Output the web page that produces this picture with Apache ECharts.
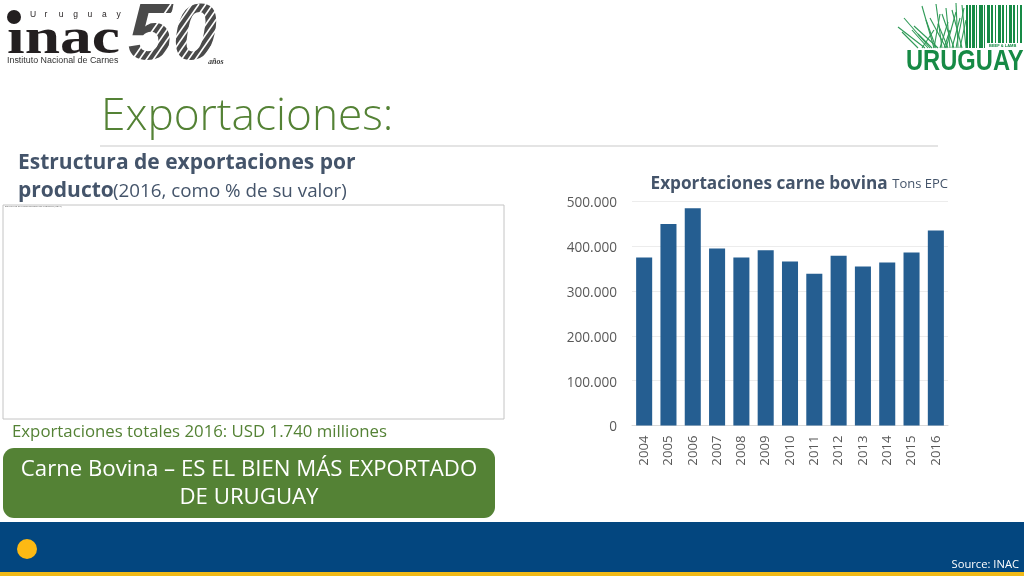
<!DOCTYPE html>
<html>
<head>
<meta charset="utf-8">
<title>Exportaciones</title>
<script src="https://cdn.jsdelivr.net/npm/echarts@6/dist/echarts.min.js"></script>
<style>
  html, body { margin: 0; padding: 0; background: #fff; }
  #main { width: 1024px; height: 576px; }
</style>
</head>
<body>
<div id="main"></div>
<script>
var years = ['2004', '2005', '2006', '2007', '2008', '2009', '2010', '2011', '2012', '2013', '2014', '2015', '2016'];
var tons = [375000, 450000, 485000, 395000, 375000, 391000, 366000, 339000, 379000, 355000, 364000, 386000, 435000];

var FONT = '"Open Sans"';
var green = '#548235';
var slate = '#44546a';
var logoGreen = '#168a45';
var logoBlack = '#231f20';

function text(x, y, str, size, color, extra) {
  var style = { x: x, y: y, text: str, fontSize: size, fontFamily: FONT, fill: color, textVerticalAlign: 'middle' };
  for (var k in extra) style[k] = extra[k];
  return { type: 'text', silent: true, style: style };
}

// text squeezed or stretched sideways, for the logo wordmarks
function wideText(x, y, str, size, color, scaleX, fontFamily, weight) {
  return {
    type: 'text', silent: true, x: x, y: y, scaleX: scaleX,
    style: { x: 0, y: 0, text: str, fontSize: size, fontFamily: fontFamily, fontWeight: weight, fill: color, textVerticalAlign: 'middle' }
  };
}

function rect(x, y, w, h, fill) {
  return { type: 'rect', silent: true, shape: { x: x, y: y, width: w, height: h }, style: { fill: fill } };
}

function line(x1, y1, x2, y2, color, w) {
  return { type: 'line', silent: true, shape: { x1: x1, y1: y1, x2: x2, y2: y2 }, style: { stroke: color, lineWidth: w } };
}

// page furniture, all of it sits outside the chart grid
var furniture = [
  text(101, 117, 'Exportaciones:', 44.2, green, { fontWeight: 300 }),
  line(100, 146, 938, 146, '#c9c9c9', 1),

  text(18, 163, 'Estructura de exportaciones por', 21, slate, { fontWeight: 700 }),
  text(18, 191, 'producto', 21, slate, { fontWeight: 700 }),
  text(113, 192, '(2016, como % de su valor)', 18.8, slate),

  { type: 'rect', silent: true, shape: { x: 3, y: 205, width: 501, height: 214 }, style: { fill: '#fff', stroke: '#c4c4c4', lineWidth: 1 } },
  text(5, 206.5, 'Estructura de exportaciones por producto (2016)', 2.5, '#555'),

  text(12, 432, 'Exportaciones totales 2016: USD 1.740 milliones', 16.8, green),

  { type: 'rect', silent: true, shape: { x: 3, y: 448, width: 492, height: 70, r: 11 }, style: { fill: green } },
  text(249, 470, 'Carne Bovina – ES EL BIEN MÁS EXPORTADO', 22.2, '#fff', { textAlign: 'center' }),
  text(249, 498, 'DE URUGUAY', 22.2, '#fff', { textAlign: 'center' }),

  rect(0, 522, 1024, 50, '#03467f'),
  rect(0, 572, 1024, 4, '#f0b917'),
  { type: 'circle', silent: true, shape: { cx: 27, cy: 549, r: 10 }, style: { fill: '#fdb913' } },
  text(1019, 565, 'Source: INAC', 11.2, '#fff', { textAlign: 'right' }),

  // inac logo
  { type: 'circle', silent: true, shape: { cx: 14, cy: 17, r: 7 }, style: { fill: logoBlack } },
  wideText(7, 40, 'ınac', 50, logoBlack, 1.27, 'Liberation Serif', 900),
  text(7, 61, 'Instituto Nacional de Carnes', 8.9, '#333', { fontFamily: 'Liberation Sans' }),
  text(128, 37, '50', 80, '#4a4a4a', { fontFamily: 'Liberation Sans', fontWeight: 700, fontStyle: 'italic' }),
  text(208, 62, 'años', 8, '#333', { fontFamily: 'Liberation Serif', fontStyle: 'italic', fontWeight: 700 }),

  // uruguay beef logo
  wideText(906, 62, 'URUGUAY', 30, logoGreen, 0.79, 'Liberation Sans', 700)
];

// spaced letters above the inac wordmark
'Uruguay'.split('').forEach(function (c, i) {
  furniture.push(text(30 + i * 14.4, 15, c, 8.5, logoBlack, { fontFamily: 'Liberation Sans' }));
});

// white hatching cut across the 50
var hatch = [125, 132, 139, 146, 153, 160, 167, 174, 181, 188, 195, 202];
hatch.forEach(function (x) {
  furniture.push(line(x, 70, x + 46, 4, '#fff', 1.6));
});

// barcode half of the logo
var barX = [966, 969, 972, 976, 979, 984, 987, 991, 995, 998, 1002, 1006, 1009, 1013, 1017, 1020];
var barW = [2, 2, 3, 1, 4, 1, 3, 2, 1, 3, 2, 1, 3, 2, 1, 2];
barX.forEach(function (x, i) {
  furniture.push(rect(x, 5, barW[i], i > 5 ? 38 : 43, logoGreen));
});
furniture.push(text(989, 46, 'BEEF & LAMB', 4, logoGreen, { fontFamily: 'Liberation Sans', fontWeight: 700 }));

// grass blades of the logo
var blades = [[925, 48, 898, 27], [930, 48, 904, 18], [934, 48, 922, 6], [938, 48, 914, 26], [942, 48, 936, 4],
  [946, 48, 930, 18], [950, 48, 946, 8], [954, 48, 942, 14], [958, 48, 956, 3], [962, 48, 952, 10],
  [918, 48, 902, 32], [934, 48, 940, 14], [946, 48, 956, 12], [956, 48, 964, 8], [966, 48, 962, 5],
  [928, 48, 912, 30], [936, 48, 926, 20], [940, 48, 948, 22], [948, 48, 938, 24], [952, 48, 960, 18],
  [922, 48, 934, 30], [960, 48, 966, 20], [944, 48, 950, 30], [932, 48, 918, 34]];
blades.forEach(function (b) {
  furniture.push(line(b[0], b[1], b[2], b[3], '#2f9a57', 1.1));
});

var chart = echarts.init(document.getElementById('main'), null, { renderer: 'canvas' });
chart.setOption({
  animation: false,
  backgroundColor: '#fff',
  textStyle: { fontFamily: FONT },
  title: {
    text: '{b|Exportaciones carne bovina} {n|Tons EPC}',
    right: 71,
    top: 170,
    textStyle: {
      rich: {
        b: { fontFamily: FONT, fontSize: 17.2, fontWeight: 700, color: slate },
        n: { fontFamily: FONT, fontSize: 13, fontWeight: 400, color: slate }
      }
    }
  },
  grid: { left: 632, top: 201.5, width: 316, height: 224 },
  xAxis: {
    type: 'category',
    data: years,
    axisTick: { show: false },
    axisLine: { lineStyle: { color: '#d9d9d9' } },
    axisLabel: { rotate: 90, color: '#595959', fontSize: 13.2, fontFamily: FONT, margin: 10 }
  },
  yAxis: {
    type: 'value',
    min: 0,
    max: 500000,
    interval: 100000,
    axisLine: { show: false },
    axisTick: { show: false },
    splitLine: { lineStyle: { color: '#ececec' } },
    axisLabel: {
      margin: 15,
      formatter: function (v) { return '{a|' + String(v).replace(/\B(?=(\d{3})+$)/g, '.') + '}'; },
      rich: {
        a: { color: '#595959', fontSize: 13.6, fontFamily: FONT, padding: [4, 0, 0, 0] }
      }
    }
  },
  series: [{
    type: 'bar',
    data: tons,
    barWidth: '66%',
    itemStyle: { color: '#255e91' }
  }],
  graphic: furniture
});
</script>
</body>
</html>
